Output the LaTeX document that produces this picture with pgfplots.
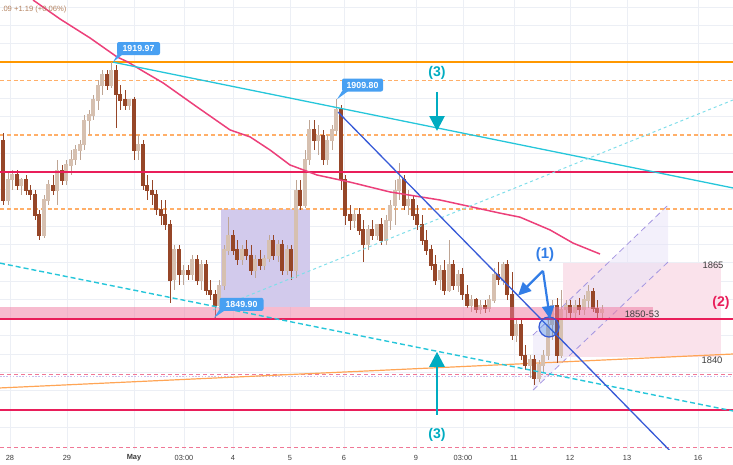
\documentclass[border=0pt]{standalone}
\usepackage{pgfplots}
\pgfplotsset{compat=1.18}
\usepackage{pgfplotstable}
\usepackage{fontspec}
\setmainfont{Liberation Sans}
\usetikzlibrary{arrows.meta}

\definecolor{bullbody}{RGB}{214,192,176}
\definecolor{bullwick}{RGB}{190,165,148}
\definecolor{bearbody}{RGB}{150,70,40}
\definecolor{tvorange}{RGB}{255,152,0}
\definecolor{tvorangel}{RGB}{255,165,85}
\definecolor{tvorangeo}{RGB}{255,175,105}
\definecolor{tvred}{RGB}{233,30,90}
\definecolor{tvma}{RGB}{236,64,122}
\definecolor{tvcyan}{RGB}{38,198,218}
\definecolor{tvcyanl}{RGB}{128,222,234}
\definecolor{tvblue}{RGB}{55,90,215}
\definecolor{lblue}{RGB}{50,125,230}
\definecolor{tvteal}{RGB}{0,172,193}
\definecolor{tvpink}{RGB}{240,120,160}
\definecolor{pinkdash}{RGB}{240,120,150}
\definecolor{callout}{RGB}{72,160,242}
\definecolor{gridc}{RGB}{236,239,245}
\definecolor{lav}{RGB}{210,202,236}
\definecolor{lavl}{RGB}{232,226,248}
\definecolor{chanline}{RGB}{165,150,225}
\definecolor{pinkrect}{RGB}{250,226,235}
\definecolor{txtgray}{RGB}{60,60,60}
\definecolor{toptxt}{RGB}{180,130,95}

\pgfplotstableread{
x o h l c
3 1898.6 1900.6 1880.8 1882.2
8 1882.2 1889.9 1880.8 1887.7
12 1887.7 1890.4 1884.9 1889.1
17 1889.1 1890.4 1884.9 1886.3
21 1886.3 1888.2 1883.6 1887.7
26 1887.7 1889.1 1883.6 1884.9
30 1884.9 1886.3 1882.2 1883.6
35 1883.6 1884.9 1876.7 1878.1
39 1878.1 1879.5 1871.2 1872.6
44 1872.6 1883.6 1871.8 1882.2
48 1882.2 1887.7 1880.8 1886.3
53 1886.3 1889.1 1883.6 1884.9
57 1884.9 1893.2 1880.8 1890.4
62 1890.4 1891.8 1886.3 1887.7
66 1887.7 1893.2 1886.3 1891.8
71 1891.8 1895.9 1889.1 1893.2
75 1893.2 1897.3 1891.8 1895.9
80 1895.9 1898.6 1893.2 1897.3
84 1897.3 1905.5 1895.9 1904.1
89 1904.1 1906.9 1900.0 1905.5
93 1905.5 1911.0 1904.1 1909.6
98 1909.6 1915.1 1906.9 1913.7
102 1913.7 1917.8 1911.0 1916.5
107 1916.5 1917.8 1912.3 1913.7
111 1913.7 1919.97 1912.9 1917.8
116 1917.8 1919.2 1901.9 1911.0
120 1911.0 1913.7 1906.9 1909.6
125 1909.6 1912.3 1906.9 1908.2
129 1908.2 1909.6 1906.9 1909.6
134 1909.6 1910.4 1893.2 1895.9
138 1895.9 1900.0 1893.2 1897.3
143 1897.3 1898.6 1884.9 1886.3
147 1886.3 1889.1 1882.2 1884.9
152 1884.9 1887.7 1880.8 1883.6
156 1883.6 1884.9 1878.1 1879.5
161 1879.5 1882.2 1875.4 1878.1
165 1878.1 1882.2 1874.0 1875.4
170 1875.4 1876.7 1854.0 1860.3
174 1860.3 1869.9 1857.5 1868.5
179 1868.5 1869.9 1858.9 1861.7
183 1861.7 1864.4 1858.9 1863.0
188 1863.0 1864.4 1860.3 1861.7
192 1861.7 1867.1 1860.3 1865.8
197 1865.8 1867.1 1858.9 1860.3
201 1860.3 1865.8 1857.5 1864.4
206 1864.4 1865.8 1856.2 1857.5
210 1857.5 1860.3 1854.8 1856.2
215 1856.2 1857.5 1849.9 1853.4
219 1853.4 1860.3 1852.1 1858.9
224 1858.9 1869.9 1857.5 1868.5
228 1868.5 1877.5 1867.1 1872.6
233 1872.6 1874.0 1867.1 1868.5
237 1868.5 1871.2 1864.4 1865.8
242 1865.8 1869.9 1864.4 1868.5
246 1868.5 1871.2 1865.8 1867.1
251 1867.1 1869.9 1861.7 1863.0
255 1863.0 1867.1 1860.8 1865.8
260 1865.8 1868.5 1863.0 1864.4
264 1864.4 1867.1 1863.0 1866.3
269 1866.3 1872.6 1865.2 1871.2
273 1871.2 1872.6 1865.8 1867.1
278 1867.1 1871.2 1865.2 1869.9
282 1869.9 1871.2 1861.7 1863.0
287 1863.0 1869.9 1861.7 1868.5
291 1868.5 1869.9 1860.3 1863.0
296 1863.0 1887.7 1860.8 1884.9
300 1884.9 1887.7 1879.5 1880.8
305 1880.8 1895.9 1880.0 1893.2
309 1893.2 1904.1 1891.8 1901.4
314 1901.4 1904.1 1895.9 1898.6
318 1898.6 1902.8 1894.5 1900.0
323 1900.0 1901.4 1891.8 1893.2
327 1893.2 1900.0 1891.8 1898.6
332 1898.6 1902.8 1895.9 1901.4
336 1901.4 1909.8 1900.0 1906.9
341 1906.9 1908.2 1884.9 1887.7
345 1887.7 1889.1 1875.4 1878.1
350 1878.1 1880.8 1874.0 1876.7
354 1876.7 1879.5 1874.5 1878.1
359 1878.1 1880.0 1872.6 1874.0
363 1874.0 1876.7 1865.2 1869.9
368 1869.9 1875.4 1868.5 1874.0
372 1874.0 1876.7 1871.2 1872.6
377 1872.6 1875.4 1871.2 1875.4
381 1875.4 1877.3 1869.9 1871.2
386 1871.2 1878.1 1869.9 1876.7
390 1876.7 1882.2 1874.0 1880.8
395 1880.8 1887.7 1875.4 1884.9
399 1884.9 1892.3 1882.2 1887.7
404 1887.7 1889.1 1879.5 1880.8
408 1880.8 1884.9 1878.1 1882.2
413 1882.2 1883.6 1876.7 1878.1
417 1878.1 1880.8 1874.0 1875.4
422 1875.4 1878.1 1869.9 1871.2
426 1871.2 1874.0 1867.1 1868.5
431 1868.5 1869.9 1863.0 1864.4
435 1864.4 1867.1 1858.9 1860.3
440 1860.3 1864.4 1857.5 1863.0
444 1863.0 1865.8 1856.2 1857.5
449 1857.5 1871.2 1857.0 1864.4
453 1864.4 1865.8 1857.5 1858.9
458 1858.9 1863.0 1857.0 1861.7
462 1861.7 1863.6 1854.8 1856.2
467 1856.2 1858.9 1852.6 1853.4
471 1853.4 1856.2 1851.5 1854.8
476 1854.8 1855.4 1851.2 1852.1
480 1852.1 1854.8 1851.0 1853.4
485 1853.4 1854.8 1851.2 1852.6
489 1852.6 1856.2 1851.5 1854.8
494 1854.8 1863.6 1854.0 1861.7
498 1861.7 1865.2 1858.9 1860.3
503 1860.3 1865.2 1858.9 1864.4
507 1864.4 1865.8 1854.8 1856.2
512 1856.2 1862.5 1843.8 1845.2
516 1845.2 1849.9 1843.3 1848.0
521 1848.0 1849.3 1838.4 1839.7
525 1839.7 1842.5 1835.6 1837.0
530 1837.0 1839.7 1833.4 1838.4
534 1838.4 1839.7 1831.5 1833.4
539 1833.4 1838.4 1832.3 1837.0
543 1837.0 1841.1 1835.1 1839.7
548 1839.7 1850.7 1838.4 1848.0
552 1848.0 1854.8 1843.8 1853.4
557 1853.4 1855.4 1837.5 1839.7
561 1839.7 1857.5 1838.9 1852.1
566 1852.1 1854.8 1849.3 1853.4
570 1853.4 1854.8 1849.9 1851.5
575 1851.5 1854.8 1849.9 1853.4
579 1853.4 1855.4 1850.7 1852.1
584 1852.1 1856.2 1850.7 1854.8
588 1854.8 1858.9 1852.6 1857.0
593 1857.0 1858.1 1851.5 1852.6
597 1852.6 1854.8 1849.9 1851.5
602 1851.5 1853.4 1849.9 1852.1
}\candles

\begin{document}
\begin{tikzpicture}
\useasboundingbox (0,0) rectangle (366.5pt,232.5pt);
\begin{axis}[
  at={(0pt,7.5pt)}, anchor=south west,
  scale only axis, width=366.5pt, height=225pt,
  xmin=0, xmax=733, ymin=1813.7, ymax=1937,
  axis line style={draw=none}, major tick length=0pt,
  xtick={10,67,134,184,233,290,344,416,463,514,570,627,698},
  xticklabels={28,29,\textbf{May},03:00,4,5,6,9,03:00,11,12,13,16},
  xticklabel style={font=\fontsize{3.7}{4}\selectfont, text=txtgray, anchor=center, yshift=-3.8pt},
  ytick={1820,1830,1835,1840,1845,1855,1860,1865,1870,1875,1885,1895,1905,1910,1925,1930,1935}, yticklabels={},
  grid=major, major grid style={draw=gridc, line width=0.5pt},
]
% background zones
\addplot[draw=none, fill=lav, forget plot] coordinates {(221,1879.7) (310,1879.7) (310,1852.9) (221,1852.9)};
\addplot[draw=none, fill=pinkrect, forget plot] coordinates {(563,1865.0) (721,1865.0) (721,1839.2) (563,1839.2)};
\addplot[draw=none, fill=lavl, fill opacity=0.5, forget plot] coordinates {(533,1845.2) (668,1880.8) (668,1865.2) (533,1830.1)};
\addplot[chanline, densely dashed, line width=0.4pt, forget plot] coordinates {(533,1845.2) (668,1880.8)};
\addplot[chanline, densely dashed, line width=0.4pt, forget plot] coordinates {(533,1830.1) (668,1865.2)};

% horizontal levels
\addplot[tvorange, line width=0.7pt, forget plot] coordinates {(0,1919.97) (733,1919.97)};
\addplot[tvorangeo, line width=0.9pt, dash pattern=on 2pt off 1.4pt, forget plot] coordinates {(0,1914.94) (733,1914.94)};
\addplot[tvorangeo, line width=0.9pt, dash pattern=on 2pt off 1.4pt, forget plot] coordinates {(0,1900.0) (733,1900.0)};
\addplot[tvorangeo, line width=0.9pt, dash pattern=on 2pt off 1.4pt, forget plot] coordinates {(0,1879.7) (733,1879.7)};
\addplot[pinkdash, line width=0.5pt, dash pattern=on 2pt off 1.5pt, forget plot] coordinates {(0,1834.5) (733,1834.5)};
\addplot[chanline!60, line width=0.4pt, dash pattern=on 0.8pt off 0.8pt, forget plot] coordinates {(0,1833.9) (733,1833.9)};
\addplot[pinkdash, line width=0.5pt, dash pattern=on 2pt off 1.5pt, forget plot] coordinates {(0,1814.5) (733,1814.5)};
\addplot[tvorangel, line width=0.6pt, forget plot] coordinates {(0,1830.7) (733,1840.0)};

% candles
\addplot[draw=none, mark=none, forget plot,
  x filter/.expression={\thisrow{c}>=\thisrow{o} ? x : nan},
  error bars/.cd, y dir=both, y explicit, error mark=none,
  error bar style={draw=bullwick, line width=0.5pt}]
  table[x=x, y expr={(\thisrow{h}+\thisrow{l})/2}, y error expr={(\thisrow{h}-\thisrow{l})/2}] {\candles};
\addplot[draw=none, mark=none, forget plot,
  x filter/.expression={\thisrow{c}<\thisrow{o} ? x : nan},
  error bars/.cd, y dir=both, y explicit, error mark=none,
  error bar style={draw=bearbody, line width=0.5pt}]
  table[x=x, y expr={(\thisrow{h}+\thisrow{l})/2}, y error expr={(\thisrow{h}-\thisrow{l})/2}] {\candles};
\addplot[draw=none, mark=none, forget plot,
  x filter/.expression={\thisrow{c}>=\thisrow{o} ? x : nan},
  error bars/.cd, y dir=both, y explicit, error mark=none,
  error bar style={draw=bullbody, line width=1.6pt}]
  table[x=x, y expr={(\thisrow{o}+\thisrow{c})/2}, y error expr={abs(\thisrow{c}-\thisrow{o})/2+0.15}] {\candles};
\addplot[draw=none, mark=none, forget plot,
  x filter/.expression={\thisrow{c}<\thisrow{o} ? x : nan},
  error bars/.cd, y dir=both, y explicit, error mark=none,
  error bar style={draw=bearbody, line width=1.6pt}]
  table[x=x, y expr={(\thisrow{o}+\thisrow{c})/2}, y error expr={abs(\thisrow{c}-\thisrow{o})/2+0.15}] {\candles};

% support band and red levels
\addplot[draw=none, fill=tvpink, fill opacity=0.5, forget plot] coordinates {(0,1853.0) (653,1853.0) (653,1849.6) (0,1849.6)};
\addplot[tvred, line width=1pt, forget plot] coordinates {(0,1889.9) (733,1889.9)};
\addplot[tvred, line width=1pt, forget plot] coordinates {(0,1849.6) (733,1849.6)};
\addplot[tvred, line width=1pt, forget plot] coordinates {(0,1824.7) (733,1824.7)};

% moving average
\addplot[tvma, line width=0.75pt, forget plot] coordinates {
(33,1937.0) (60,1931.8) (90,1926.6) (117,1921.4) (128,1920.0) (143,1917.5) (163,1914.3)
(197,1907.7) (230,1901.4) (250,1899.5) (270,1895.9) (290,1891.8) (317,1889.05)
(350,1887.1) (390,1884.4) (440,1882.2) (500,1878.6) (520,1877.5) (550,1874.0)
(573,1870.4) (600,1867.4)};

% trend lines
\addplot[tvcyan, line width=0.65pt, forget plot] coordinates {(113,1919.97) (733,1885.5)};
\addplot[tvcyan, line width=0.7pt, dash pattern=on 2.5pt off 1.5pt, forget plot] coordinates {(0,1864.9) (733,1824.4)};
\addplot[tvcyanl, line width=0.5pt, dash pattern=on 1.5pt off 1.5pt, forget plot] coordinates {(213,1852.1) (733,1909.6)};
\addplot[tvblue, line width=0.65pt, forget plot] coordinates {(338,1906.3) (690,1807.9)};

% circle
\draw[tvblue, line width=0.6pt, fill=lblue, fill opacity=0.35] (axis cs:549,1847.4) circle[radius=5pt];

% arrows
\draw[tvteal, line width=1.3pt, -{Triangle[width=7.5pt,length=7.5pt]}] (axis cs:437,1911.8) -- (axis cs:437,1901.1);
\draw[tvteal, line width=1.3pt, -{Triangle[width=7.5pt,length=7.5pt]}] (axis cs:437,1823.3) -- (axis cs:437,1840.6);
\draw[lblue, line width=1.1pt, -{Triangle[width=6pt,length=6.5pt]}] (axis cs:543,1862.8) -- (axis cs:518,1856.0);
\draw[lblue, line width=1.1pt, -{Triangle[width=6pt,length=6.5pt]}] (axis cs:543,1862.8) -- (axis cs:550,1849.6);

% labels
\node[text=tvteal, font=\bfseries\fontsize{7}{8}\selectfont] at (axis cs:437,1917.0) {(3)};
\node[text=tvteal, font=\bfseries\fontsize{7}{8}\selectfont] at (axis cs:437,1817.8) {(3)};
\node[text=lblue, font=\bfseries\fontsize{7.5}{8}\selectfont] at (axis cs:545,1867.1) {(1)};
\node[text=tvred, font=\bfseries\fontsize{7}{8}\selectfont] at (axis cs:721,1854.0) {(2)};
\node[text=txtgray, font=\fontsize{4.7}{5}\selectfont] at (axis cs:713,1864.4) {1865};
\node[text=txtgray, font=\fontsize{4.7}{5}\selectfont] at (axis cs:642,1851.0) {1850-53};
\node[text=txtgray, font=\fontsize{4.7}{5}\selectfont] at (axis cs:712,1838.4) {1840};
\node[anchor=west, text=toptxt, font=\fontsize{3.8}{4}\selectfont, inner sep=0pt] at (axis cs:1,1934.5) {.09 +1.19 (+0.06\%)};

% callouts
\fill[callout] (axis cs:118,1922.4) -- (axis cs:124,1922.4) -- (axis cs:113,1919.97) -- cycle;
\node[fill=callout, rounded corners=1pt, text=white, font=\bfseries\fontsize{4.4}{5}\selectfont, inner sep=0pt, minimum width=21.5pt, minimum height=6.5pt] at (axis cs:138.5,1923.7) {1919.97};
\fill[callout] (axis cs:342,1912.0) -- (axis cs:348,1912.0) -- (axis cs:337,1909.8) -- cycle;
\node[fill=callout, rounded corners=1pt, text=white, font=\bfseries\fontsize{4.4}{5}\selectfont, inner sep=0pt, minimum width=20.5pt, minimum height=6.5pt] at (axis cs:362.5,1913.7) {1909.80};
\fill[callout] (axis cs:219,1852.0) -- (axis cs:225,1852.0) -- (axis cs:214,1849.9) -- cycle;
\node[fill=callout, rounded corners=1pt, text=white, font=\bfseries\fontsize{4.4}{5}\selectfont, inner sep=0pt, minimum width=22pt, minimum height=6.5pt] at (axis cs:241.5,1853.6) {1849.90};
\end{axis}
\end{tikzpicture}
\end{document}
